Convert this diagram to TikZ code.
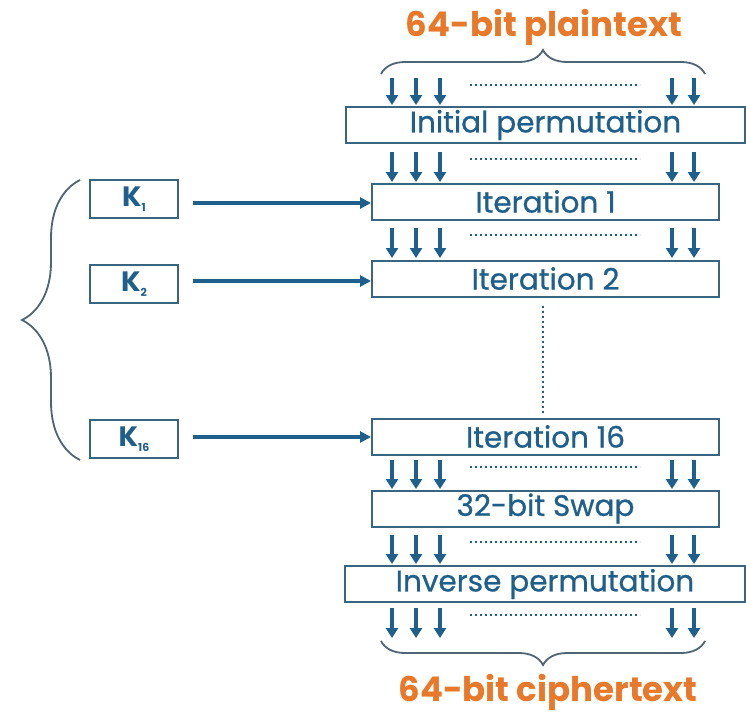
\documentclass[tikz,border=0pt]{standalone}
\usepackage{fontspec}
\setmainfont{Poppins}
\newfontfamily\medfont{Poppins}[FakeBold=0.8]
\usetikzlibrary{arrows.meta,decorations.pathreplacing,calc}
\definecolor{dblue}{HTML}{1F5F8B}
\definecolor{bordc}{HTML}{3A6580}
\definecolor{orng}{HTML}{E8782A}
\definecolor{bracec}{HTML}{4F6575}
\tikzset{
  blk/.style={draw=bordc, line width=2pt, minimum height=36pt, inner sep=0pt, text=dblue, font=\medfont\fontsize{29.5}{31}\selectfont},
  kbox/.style={draw=bordc, line width=2pt, minimum width=88pt, minimum height=38pt, inner sep=0pt, text=dblue, font=\fontsize{28}{30}\selectfont\bfseries},
  bitarr/.style={draw=dblue, line width=3.4pt, -{Triangle[length=10pt,width=12pt]}},
  karr/.style={draw=dblue, line width=3.2pt, -{Triangle[length=11pt,width=11pt]}},
  dotl/.style={draw=dblue, line width=2.4pt, dash pattern=on 2.4pt off 2.6pt},
  brc/.style={draw=bracec, line width=1.8pt},
  title/.style={text=orng, font=\fontsize{34}{36}\selectfont\bfseries}
}
\newcommand\arrowrow[2]{%
  \foreach \xx in {392,416,440,672,694}{\draw[bitarr] (\xx,#1) -- (\xx,#2);}
  \draw[dotl] (470,#1+7) -- (640,#1+7);
}
\begin{document}
\begin{tikzpicture}[x=1pt,y=-1pt]
\useasboundingbox (0,0) rectangle (746,715);
\fill[white] (0,0) rectangle (746,715);
\node[title] (pt) at (544,27) {64-bit plaintext};
\node[blk, minimum width=399pt] (ip) at (545.5,125) {Initial permutation};
\node[blk, minimum width=347pt] (it1) at (545.5,201.5) {Iteration 1};
\node[blk, minimum width=347pt] (it2) at (545.5,278.5) {Iteration 2};
\node[blk, minimum width=347pt] (it16) at (545.5,436.5) {Iteration 16};
\node[blk, minimum width=347pt] (sw) at (545.5,508.5) {32-bit Swap};
\node[blk, minimum width=400pt] (inv) at (545,584) {Inverse permutation};
\node[title] (ct) at (548,692) {64-bit ciphertext};
% braces
\draw[brc, decorate, decoration={brace, amplitude=24pt}] (381,74) -- (705,74);
\draw[brc, decorate, decoration={brace, amplitude=24pt, mirror}] (381,641) -- (705,641);
% arrow rows
\arrowrow{78}{105}
\arrowrow{152}{182}
\arrowrow{228}{258}
\arrowrow{460}{489}
\arrowrow{535}{564}
\arrowrow{608}{638}
% dotted vertical
\draw[dotl] (it2.south -| 543,0) ++(0,8) -- (543,414);
% keys
\node[kbox] (k1) at (134,199) {K\raisebox{-0.3ex}{\fontsize{11}{11}\selectfont 1}};
\node[kbox] (k2) at (134,284) {K\raisebox{-0.3ex}{\fontsize{11}{11}\selectfont 2}};
\node[kbox] (k16) at (134,439) {K\raisebox{-0.3ex}{\fontsize{11}{11}\selectfont 16}};
\draw[karr] (k1.east) ++(14,4) -- (it1.west |- 0,203);
\draw[karr] (k2.east) ++(14,-3) -- (it2.west |- 0,281);
\draw[karr] (k16.east) ++(14,-2) -- (it16.west |- 0,437);
% left brace
\draw[brc, decorate, decoration={brace, amplitude=58pt, aspect=0.5}] (80,460) -- (80,180);
\end{tikzpicture}
\end{document}
